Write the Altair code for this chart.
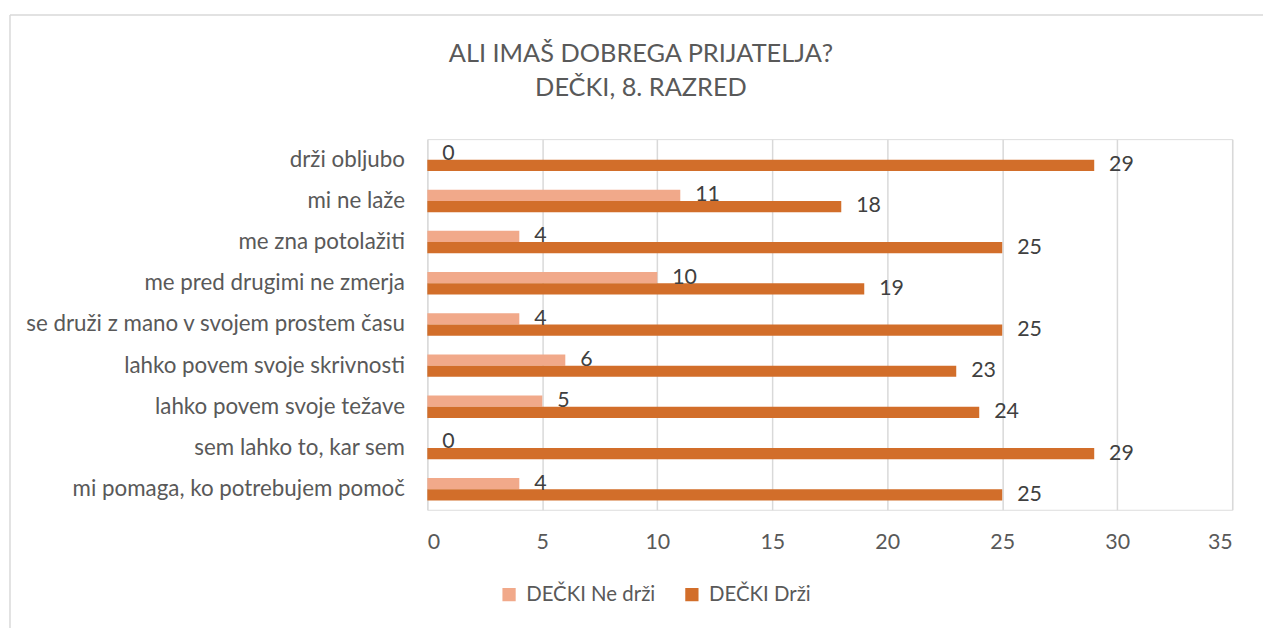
import altair as alt
import pandas as pd

categories = [
    "drži obljubo",
    "mi ne laže",
    "me zna potolažiti",
    "me pred drugimi ne zmerja",
    "se druži z mano v svojem prostem času",
    "lahko povem svoje skrivnosti",
    "lahko povem svoje težave",
    "sem lahko to, kar sem",
    "mi pomaga, ko potrebujem pomoč",
]
series = ["DEČKI Ne drži", "DEČKI Drži"]
ne_drzi = [0, 11, 4, 10, 4, 6, 5, 0, 4]
drzi = [29, 18, 25, 19, 25, 23, 24, 29, 25]
colors = ["#F1A98A", "#D26E2A"]
x_ticks = [0, 5, 10, 15, 20, 25, 30, 35]
title_lines = ["ALI IMAŠ DOBREGA PRIJATELJA?", "DEČKI, 8. RAZRED"]

rows = []
for c, a, b in zip(categories, ne_drzi, drzi):
    rows.append({"cat": c, "series": series[0], "value": a})
    rows.append({"cat": c, "series": series[1], "value": b})
df = pd.DataFrame(rows)

FONT = "Lato"
W, H = 810, 373
TXT = "#595959"

y_enc = alt.Y("cat:N", sort=categories, title=None,
              scale=alt.Scale(paddingInner=0.455, paddingOuter=0.2275),
              axis=alt.Axis(domain=False, ticks=False, labelPadding=23,
                            labelFontSize=22.5, labelColor=TXT, labelFont=FONT,
                            labelLimit=600))
yoff = alt.YOffset("series:N", sort=series,
                   scale=alt.Scale(domain=series, paddingInner=0, paddingOuter=0))
x_enc = alt.X("value:Q", title=None,
              scale=alt.Scale(domain=[0, 35], nice=False),
              axis=alt.Axis(values=x_ticks, domain=False, ticks=False, grid=True,
                            gridColor="#D9D9D9", gridWidth=1.5, labelPadding=22,
                            labelFontSize=21.5, labelColor=TXT, labelFont=FONT))

base = alt.Chart(df)

bars = base.mark_bar(cornerRadius=0).encode(
    y=y_enc,
    yOffset=yoff,
    x=x_enc,
    color=alt.Color("series:N", sort=series,
                    scale=alt.Scale(domain=series, range=colors),
                    legend=alt.Legend(title=None, orient="none", direction="horizontal",
                                      legendX=72, legendY=448, symbolType="square",
                                      symbolSize=178, symbolStrokeWidth=0, padding=0,
                                      labelFontSize=20.5, labelColor=TXT, labelFont=FONT,
                                      columnPadding=26, symbolOffset=0, labelOffset=7)),
)

labels = base.mark_text(align="left", baseline="middle", dx=15, fontSize=21.5,
                        color="#404040", font=FONT).encode(
    y=alt.Y("cat:N", sort=categories),
    yOffset=yoff,
    x="value:Q",
    text="value:Q",
)

one = alt.Data(values=[{"k": 0}])
title1 = alt.Chart(one).mark_text(text=title_lines[0], fontSize=25.5, font=FONT,
                                  color=TXT, align="center", baseline="alphabetic").encode(
    x=alt.value(215), y=alt.value(-78))
title2 = alt.Chart(one).mark_text(text=title_lines[1], fontSize=25.5, font=FONT,
                                  color=TXT, align="center", baseline="alphabetic").encode(
    x=alt.value(215), y=alt.value(-43))

border_h = alt.Chart(one).mark_rule(color="#D9D9D9", strokeWidth=1.5).encode(
    x=alt.value(-420), x2=alt.value(900), y=alt.value(-125)
)
border_v = alt.Chart(one).mark_rule(color="#D9D9D9", strokeWidth=1.5).encode(
    x=alt.value(-420), y=alt.value(-125), y2=alt.value(520)
)

chart = alt.layer(border_h, border_v, title1, title2, bars, labels).properties(
    width=W, height=H,
    autosize=alt.AutoSizeParams(type="none"),
    padding={"left": 422, "top": 130, "right": 31, "bottom": 117},
).configure_view(stroke=None).configure(background="white")

chart.save("out.html", embed_options={"renderer": "svg", "actions": False})
